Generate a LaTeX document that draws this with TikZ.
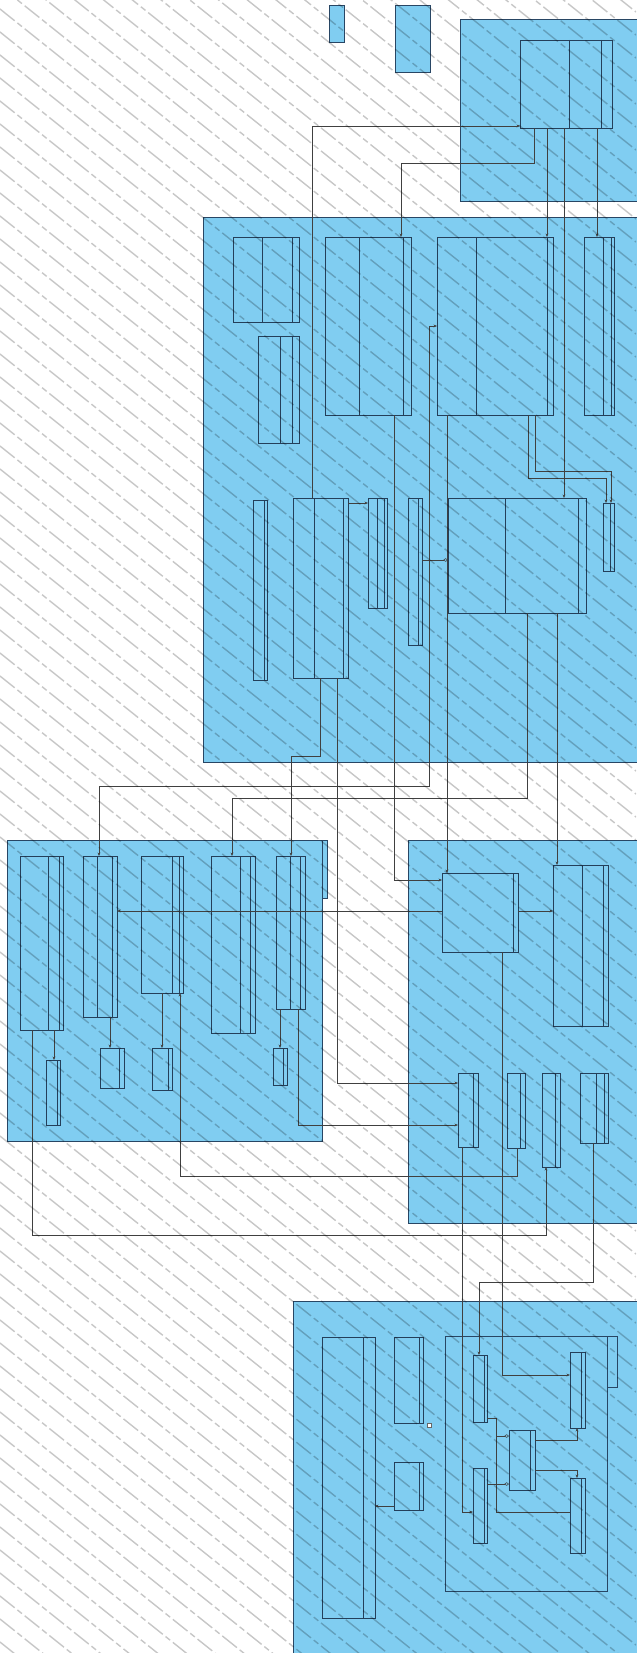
\documentclass[tikz,border=0pt]{standalone}
\usepackage{tikz}
\usetikzlibrary{arrows.meta, positioning, fit, calc}

\definecolor{pkgblue}{RGB}{128,205,241}
\definecolor{pkgline}{RGB}{40,70,100}

% class box: name, corner, corner, compartment lines
\newcommand{\clsbox}[6]{%
  \node[cls, fit={(#2,#3) (#4,#5)}] (#1) {};
  \foreach \dv in {#6} {\draw[cdiv] (\dv,#3) -- (\dv,#5);}
}

\begin{document}
\begin{tikzpicture}[
  x=0.03cm, y=-0.03cm,
  pkg/.style={draw=pkgline, fill=pkgblue, line width=0.5pt, inner sep=0pt},
  cls/.style={draw=pkgline!90!black, fill=pkgblue, line width=0.45pt, inner sep=0pt, outer sep=0pt},
  cdiv/.style={draw=pkgline!90!black, line width=0.4pt},
  conn/.style={draw=black!75, line width=0.45pt},
  nav/.style={conn, -{Stealth[length=3pt, width=2.4pt]}},
  both/.style={conn, {Stealth[length=3pt, width=2.4pt]}-{Stealth[length=3pt, width=2.4pt]}},
  agg/.style={conn, {Diamond[open, length=4pt, width=3pt]}-},
  wmark/.style={draw=black, opacity=0.22, line width=1.2pt, dash pattern=on 16pt off 3pt on 5pt off 3pt},
]
\useasboundingbox (0,0) rectangle (636,1653);
\fill[white] (0,0) rectangle (636,1653);

% packages and notes
\node[pkg, fit={(460,19) (640,201)}] (pkgTop) {};
\node[pkg, fit={(203,217) (640,762)}] (pkgMain) {};
\node[pkg, fit={(7,840) (322,1141)}] (pkgLeft) {};
\draw[pkg] (322,840) rectangle (327,898);
\node[pkg, fit={(408,840) (640,1223)}] (pkgMid) {};
\node[pkg, fit={(293,1301) (640,1660)}] (pkgLow) {};
\node[pkg, fit={(329,5) (344,42)}] (noteA) {};
\node[pkg, fit={(395,5) (430,72)}] (noteB) {};

% top package
\clsbox{clsTop}{520}{40}{612}{128}{569,601}

% main package
\clsbox{clsA}{233}{237}{299}{322}{262,292}
\clsbox{clsB}{258}{336}{299}{443}{280,292}
\clsbox{clsC}{325}{237}{411}{415}{359,403}
\clsbox{clsD}{437}{237}{553}{415}{476,547}
\clsbox{clsE}{584}{237}{614}{415}{603,611}
\clsbox{clsF}{253}{500}{267}{680}{264}
\clsbox{clsG}{293}{498}{348}{678}{314,343}
\clsbox{clsH}{368}{498}{387}{608}{377,384}
\clsbox{clsI}{408}{498}{422}{645}{418}
\clsbox{clsJ}{448}{498}{586}{613}{505,578}
\clsbox{clsK}{603}{503}{614}{571}{610}

% left package
\clsbox{clsLa}{20}{856}{63}{1030}{48,59}
\clsbox{clsLb}{83}{856}{117}{1017}{97,112}
\clsbox{clsLc}{141}{856}{183}{993}{172,179}
\clsbox{clsLd}{211}{856}{255}{1033}{240,250}
\clsbox{clsLe}{276}{856}{305}{1009}{290,300}
\clsbox{clsLf}{46}{1060}{60}{1125}{57}
\clsbox{clsLg}{100}{1048}{124}{1088}{119}
\clsbox{clsLh}{152}{1048}{172}{1090}{168}
\clsbox{clsLi}{273}{1048}{287}{1085}{283}

% middle package
\clsbox{clsM}{442}{873}{518}{952}{513}
\clsbox{clsN}{553}{865}{608}{1026}{582,603}
\clsbox{clsO}{458}{1073}{478}{1147}{473}
\clsbox{clsP}{507}{1073}{525}{1148}{520}
\clsbox{clsQ}{542}{1073}{560}{1167}{555}
\clsbox{clsR}{580}{1073}{608}{1143}{596,604}

% lower package
\clsbox{clsS}{322}{1337}{375}{1618}{363}
\clsbox{clsT}{394}{1337}{423}{1423}{419}
\clsbox{clsU}{394}{1462}{423}{1510}{419}
\node[draw=pkgline, line width=0.45pt, inner sep=0pt, fit={(445,1336) (607,1591)}] (frameLow) {};
\draw[draw=pkgline, line width=0.45pt] (607,1336) rectangle (617,1387);
\clsbox{clsV}{473}{1355}{487}{1422}{484}
\clsbox{clsW}{473}{1468}{487}{1543}{484}
\clsbox{clsX}{509}{1430}{535}{1490}{530}
\clsbox{clsY}{570}{1352}{585}{1428}{581}
\clsbox{clsZ}{570}{1478}{585}{1553}{581}
\node[draw=black!60, fill=white, inner sep=0pt, minimum size=0.12cm] (noteMark) at (429,1425) {};

% top package to main package
\draw[nav] (534,0 |- clsTop.south) -- (534,163) -- (401,163) -- (401,0 |- clsC.north);
\draw[nav] (547,0 |- clsTop.south) -- (547,0 |- clsD.north);
\draw[nav] (564,0 |- clsTop.south) -- (564,0 |- clsJ.north);
\draw[nav] (597,0 |- clsTop.south) -- (597,0 |- clsE.north);
\draw[nav] (312,0 |- clsG.north) -- (312,126) -- (clsTop.west |- 0,126);

% main package
\draw[nav] (394,0 |- clsC.south) -- (394,880) -- (clsM.west |- 0,880);
\draw[both] (clsD.west |- 0,326) -- (429,326) -- (429,786) -- (99,786) -- (99,0 |- clsLb.north);
\draw[nav] (447,0 |- clsD.south) -- (447,0 |- clsM.north);
\draw[nav] (528,0 |- clsD.south) -- (528,478) -- (606,478) -- (606,0 |- clsK.north);
\draw[nav] (535,0 |- clsD.south) -- (535,471) -- (611,471) -- (611,0 |- clsK.north);
\draw[nav] (527,0 |- clsJ.south) -- (527,798) -- (232,798) -- (232,0 |- clsLd.north);
\draw[nav] (557,0 |- clsJ.south) -- (557,0 |- clsN.north);
\draw[agg] (clsJ.west |- 0,560) -- (clsI.east |- 0,560);
\draw[nav] (clsG.east |- 0,503) -- (clsH.west |- 0,503);
\draw[nav] (320,0 |- clsG.south) -- (320,756) -- (291,756) -- (291,0 |- clsLe.north);
\draw[nav] (337,0 |- clsG.south) -- (337,1083) -- (clsO.west |- 0,1083);

% left package
\draw[nav] (298,0 |- clsLe.south) -- (298,1125) -- (clsO.west |- 0,1125);
\draw[nav] (280,0 |- clsLe.south) -- (280,0 |- clsLi.north);
\draw[nav] (110,0 |- clsLb.south) -- (110,0 |- clsLg.north);
\draw[nav] (54,0 |- clsLa.south) -- (54,0 |- clsLf.north);
\draw[nav] (162,0 |- clsLc.south) -- (162,0 |- clsLh.north);
\draw[nav] (clsM.west |- 0,911) -- (clsLb.east |- 0,911);
\draw[nav] (clsM.east |- 0,911) -- (clsN.west |- 0,911);
\draw[nav] (32,0 |- clsLa.south) -- (32,1235) -- (546,1235) -- (546,0 |- clsQ.south);
\draw[nav] (517,0 |- clsP.south) -- (517,1176) -- (180,1176) -- (180,0 |- clsLc.south);

% middle package to lower package
\draw[nav] (502,0 |- clsM.south) -- (502,1375) -- (clsY.west |- 0,1375);
\draw[nav] (593,0 |- clsR.south) -- (593,1282) -- (479,1282) -- (479,0 |- clsV.north);
\draw[nav] (462,0 |- clsO.south) -- (462,1512) -- (clsW.west |- 0,1512);

% lower package
\draw[conn] (clsV.east |- 0,1418) -- (496,1418) -- (496,1512) -- (clsZ.west |- 0,1512);
\draw[agg] (clsX.west |- 0,1436) -- (496,1436);
\draw[agg] (clsX.west |- 0,1484) -- (clsW.east |- 0,1484);
\draw[nav] (clsX.east |- 0,1440) -- (577,1440) -- (577,0 |- clsY.south);
\draw[nav] (clsX.east |- 0,1470) -- (577,1470) -- (577,0 |- clsZ.north);
\draw[nav] (clsU.west |- 0,1506) -- (clsS.east |- 0,1506);

% watermark
\begin{scope}
  \clip (0,0) rectangle (636,1653);
  \foreach \c in {-520,-497,...,1660}
    \draw[wmark] (0,\c) -- (636,\c+509);
\end{scope}
\end{tikzpicture}
\end{document}
